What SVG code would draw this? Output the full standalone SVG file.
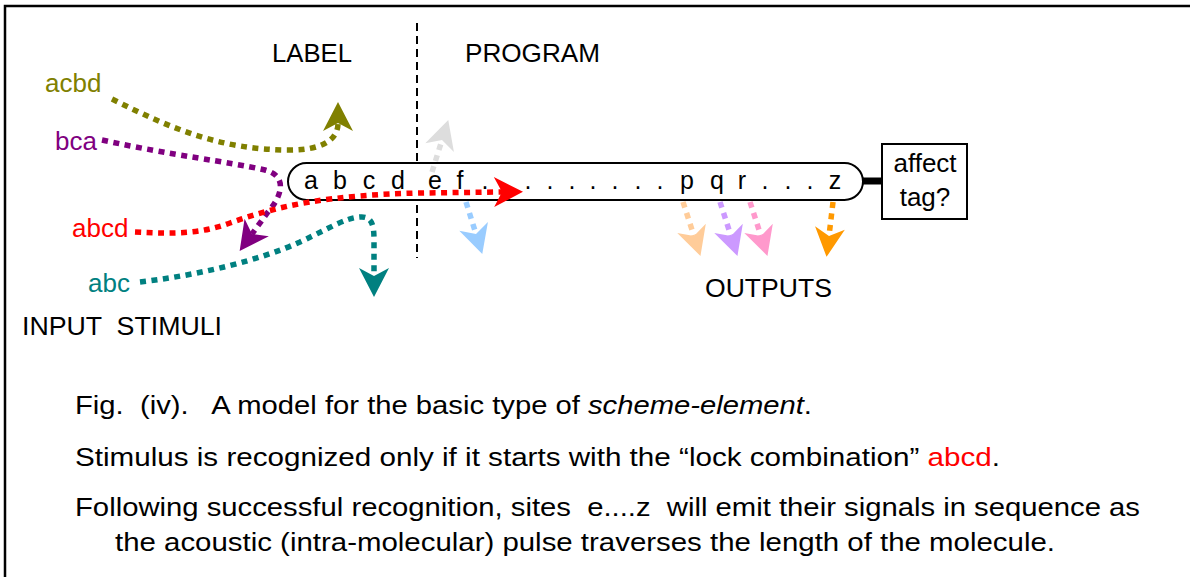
<svg xmlns="http://www.w3.org/2000/svg" width="1190" height="577" viewBox="0 0 1190 577">
<style>
text{font-family:"Liberation Sans",Arial,sans-serif;}
.lbl{font-size:26px;}
.cap{font-size:26px;fill:#000;}
.seq{font-size:25px;}
.dot{fill:none;stroke-width:5.5;stroke-dasharray:6 5.5;}
</style>
<defs>
<marker id="m-olive" markerUnits="userSpaceOnUse" markerWidth="40" markerHeight="40" viewBox="-10 -20 40 40" refX="0" refY="0" orient="auto" overflow="visible"><path d="M21,0 L-8,-15 L0,0 L-8,15 Z" fill="#808000"/></marker>
<marker id="m-purple" markerUnits="userSpaceOnUse" markerWidth="40" markerHeight="40" viewBox="-10 -20 40 40" refX="0" refY="0" orient="auto" overflow="visible"><path d="M21,0 L-8,-15 L0,0 L-8,15 Z" fill="#800080"/></marker>
<marker id="m-red" markerUnits="userSpaceOnUse" markerWidth="40" markerHeight="40" viewBox="-10 -20 40 40" refX="0" refY="0" orient="auto" overflow="visible"><path d="M21,0 L-8,-15 L0,0 L-8,15 Z" fill="#ff0000"/></marker>
<marker id="m-teal" markerUnits="userSpaceOnUse" markerWidth="40" markerHeight="40" viewBox="-10 -20 40 40" refX="0" refY="0" orient="auto" overflow="visible"><path d="M21,0 L-8,-15 L0,0 L-8,15 Z" fill="#008080"/></marker>
<marker id="m-gray" markerUnits="userSpaceOnUse" markerWidth="40" markerHeight="40" viewBox="-10 -20 40 40" refX="0" refY="0" orient="auto" overflow="visible"><path d="M21,0 L-8,-15 L0,0 L-8,15 Z" fill="#dddddd"/></marker>
<marker id="m-blue" markerUnits="userSpaceOnUse" markerWidth="40" markerHeight="40" viewBox="-10 -20 40 40" refX="0" refY="0" orient="auto" overflow="visible"><path d="M21,0 L-8,-15 L0,0 L-8,15 Z" fill="#99ccff"/></marker>
<marker id="m-peach" markerUnits="userSpaceOnUse" markerWidth="40" markerHeight="40" viewBox="-10 -20 40 40" refX="0" refY="0" orient="auto" overflow="visible"><path d="M21,0 L-8,-15 L0,0 L-8,15 Z" fill="#ffcc99"/></marker>
<marker id="m-lav" markerUnits="userSpaceOnUse" markerWidth="40" markerHeight="40" viewBox="-10 -20 40 40" refX="0" refY="0" orient="auto" overflow="visible"><path d="M21,0 L-8,-15 L0,0 L-8,15 Z" fill="#cc99ff"/></marker>
<marker id="m-pink" markerUnits="userSpaceOnUse" markerWidth="40" markerHeight="40" viewBox="-10 -20 40 40" refX="0" refY="0" orient="auto" overflow="visible"><path d="M21,0 L-8,-15 L0,0 L-8,15 Z" fill="#ff99cc"/></marker>
<marker id="m-orange" markerUnits="userSpaceOnUse" markerWidth="40" markerHeight="40" viewBox="-10 -20 40 40" refX="0" refY="0" orient="auto" overflow="visible"><path d="M21,0 L-8,-15 L0,0 L-8,15 Z" fill="#ff9900"/></marker>
</defs>
<rect width="1190" height="577" fill="#fff"/>
<path d="M5,600 L5,6 L1200,6" fill="none" stroke="#000" stroke-width="2.5"/>
<line x1="417" y1="23" x2="417" y2="258" stroke="#000" stroke-width="2" stroke-dasharray="8 5"/>
<g id="header-labels">
<text class="lbl" x="272" y="62" textLength="80" lengthAdjust="spacingAndGlyphs">LABEL</text>
<text class="lbl" x="465" y="62" textLength="135" lengthAdjust="spacingAndGlyphs">PROGRAM</text>
</g>
<g id="molecule">
<line x1="860" y1="181" x2="884" y2="181" stroke="#000" stroke-width="7"/>
<rect x="288" y="163" width="575" height="37" rx="18.5" fill="#fff" stroke="#000" stroke-width="2"/>
<text class="seq" y="189" text-anchor="middle" x="311 340 369 398 435 460 485 507 528 550 572 593 615 638 660 687 717 742 765 788 810 835">abcdef.........pqr...z</text>
</g>
<g id="affect-tag">
<rect x="882" y="144" width="85" height="75" fill="#fff" stroke="#000" stroke-width="2"/>
<text class="lbl" x="925" y="172" text-anchor="middle">affect</text>
<text class="lbl" x="925" y="206" text-anchor="middle">tag?</text>
</g>
<g id="stimuli">
<text class="lbl" x="45" y="92" fill="#808000">acbd</text>
<text class="lbl" x="55" y="150" fill="#800080">bca</text>
<text class="lbl" x="72" y="237" fill="#ff0000">abcd</text>
<text class="lbl" x="88" y="292" fill="#008080">abc</text>
<text class="lbl" x="22" y="335" xml:space="preserve" textLength="200" lengthAdjust="spacingAndGlyphs">INPUT  STIMULI</text>
</g>
<g id="outputs-label">
<text class="lbl" x="705" y="297" textLength="127" lengthAdjust="spacingAndGlyphs">OUTPUTS</text>
</g>
<g id="connectors">
<path class="dot" stroke="#808000" d="M112,99 C170,128 220,150 290,150 C322,150 338,140 338,123" marker-end="url(#m-olive)"/>
<path class="dot" stroke="#800080" d="M102,140 C170,155 230,162 265,170 C288,176 282,196 268,212 L252,234" marker-end="url(#m-purple)"/>
<path class="dot" stroke="#008080" d="M140,282 C200,275 260,260 300,242 C330,228 345,218 360,217 C372,216 374,225 374,240 L374,276" marker-end="url(#m-teal)"/>
<path class="dot" stroke="#dddddd" d="M432,172 L442,140" marker-end="url(#m-gray)"/>
<path class="dot" stroke="#99ccff" d="M466,202 L476,234" marker-end="url(#m-blue)"/>
<path class="dot" stroke="#ffcc99" d="M683,202 L694,236" marker-end="url(#m-peach)"/>
<path class="dot" stroke="#cc99ff" d="M720,202 L731,236" marker-end="url(#m-lav)"/>
<path class="dot" stroke="#ff99cc" d="M750,202 L761,236" marker-end="url(#m-pink)"/>
<path class="dot" stroke="#ff9900" d="M833,202 L829,236" marker-end="url(#m-orange)"/>
<path class="dot" stroke="#ff0000" d="M135,232 C175,234 200,234 230,223 C280,205 330,195 420,193 L502,192" marker-end="url(#m-red)"/>
</g>
<g id="caption">
<text class="cap" x="75" y="414" xml:space="preserve" textLength="737" lengthAdjust="spacingAndGlyphs">Fig.  (iv).   A model for the basic type of <tspan font-style="italic">scheme-element</tspan>.</text>
<text class="cap" x="75" y="466" textLength="925" lengthAdjust="spacingAndGlyphs">Stimulus is recognized only if it starts with the “lock combination” <tspan fill="#ff0000">abcd</tspan>.</text>
<text class="cap" x="75" y="516" xml:space="preserve" textLength="1065" lengthAdjust="spacingAndGlyphs">Following successful recognition, sites  e....z  will emit their signals in sequence as</text>
<text class="cap" x="115" y="551" textLength="940" lengthAdjust="spacingAndGlyphs">the acoustic (intra-molecular) pulse traverses the length of the molecule.</text>
</g>
</svg>
